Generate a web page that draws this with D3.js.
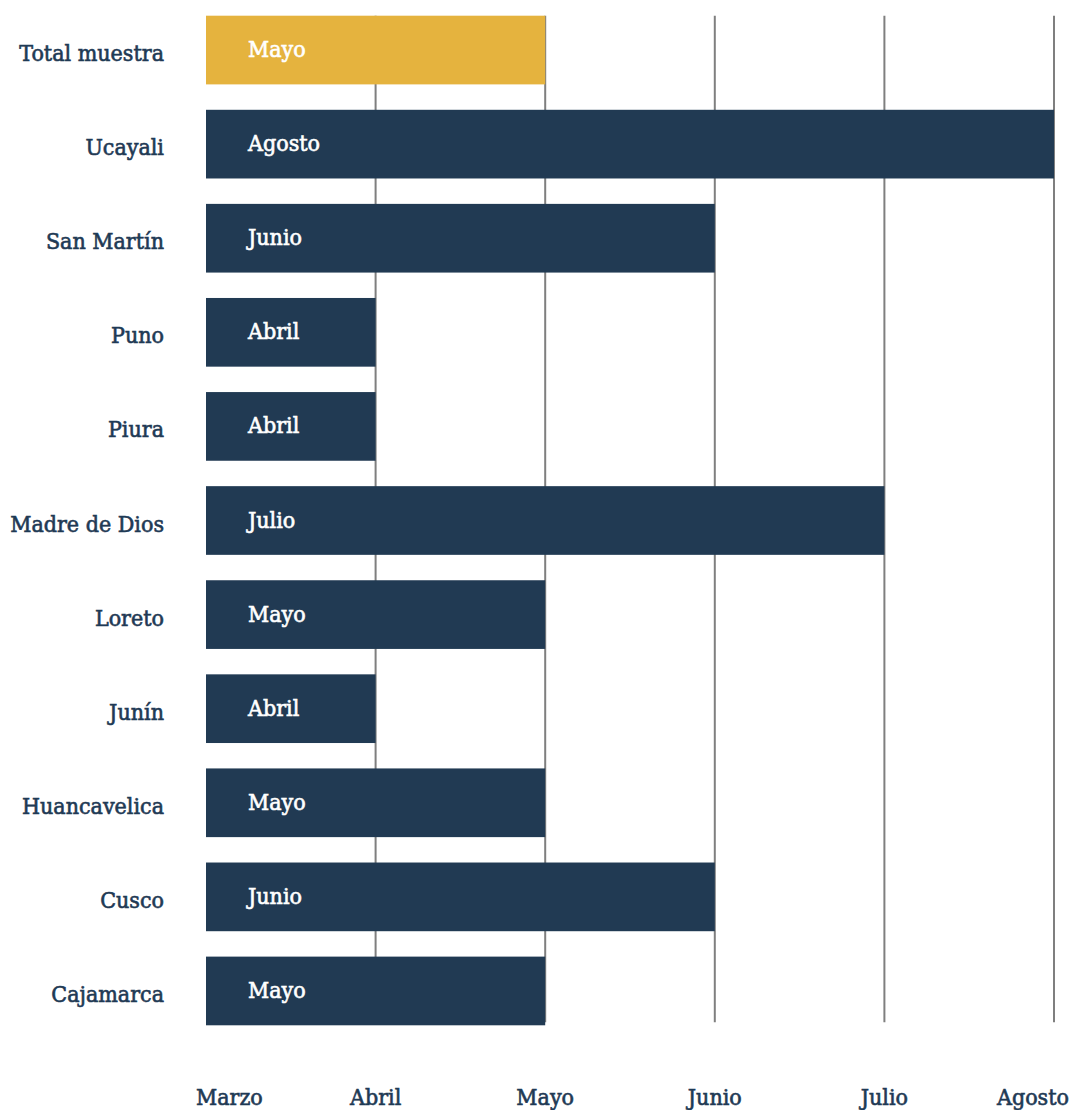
<!DOCTYPE html>
<html>
<head>
<meta charset="utf-8">
<script src="https://cdn.jsdelivr.net/npm/d3@7"></script>
<style>
  html, body { margin: 0; padding: 0; background: #ffffff; }
  svg { display: block; }
  text { font-family: "DejaVu Serif Condensed", "DejaVu Serif", serif; paint-order: stroke; stroke-width: 0.6px; }
</style>
</head>
<body>
<svg id="chart" width="1070" height="1110"></svg>
<script>
// Month in which each region reaches the threshold (0 = Marzo ... 5 = Agosto)
const regions = ["Total muestra", "Ucayali", "San Martín", "Puno", "Piura", "Madre de Dios",
                 "Loreto", "Junín", "Huancavelica", "Cusco", "Cajamarca"];
const monthIndex = [2, 5, 3, 1, 1, 4, 2, 1, 2, 3, 2];
const monthLabels = ["Marzo", "Abril", "Mayo", "Junio", "Julio", "Agosto"];
const highlighted = ["Total muestra"];

const svg = d3.select("#chart");
const W = 1070, H = 1110;
const margin = { left: 206, right: 16, top: 3, bottom: 72 };

const x = d3.scaleLinear()
  .domain([0, monthLabels.length - 1])
  .range([margin.left, W - margin.right]);

const y = d3.scaleBand()
  .domain(regions)
  .range([margin.top, H - margin.bottom])
  .paddingInner(0.27)
  .paddingOuter(0.135);

const navy = "#213a53";
const gold = "#e5b33e";
const textColor = "#1f3a55";
const fontSize = 23;

// vertical month gridlines, behind the bars
const gridTop = y(regions[0]);
const gridBottom = y(regions[regions.length - 1]) + y.bandwidth() - 3;
svg.append("g")
  .selectAll("line")
  .data(d3.range(1, monthLabels.length))
  .join("line")
  .attr("x1", d => x(d)).attr("x2", d => x(d))
  .attr("y1", gridTop).attr("y2", gridBottom)
  .attr("stroke", "#7f7f7f")
  .attr("stroke-width", 2);

const rows = regions.map((r, i) => ({ region: r, value: monthIndex[i] }));

// bars
svg.append("g")
  .selectAll("rect")
  .data(rows)
  .join("rect")
  .attr("x", x(0))
  .attr("y", d => y(d.region))
  .attr("width", d => x(d.value) - x(0))
  .attr("height", y.bandwidth())
  .attr("fill", d => highlighted.includes(d.region) ? gold : navy);

// month name inside each bar
svg.append("g")
  .selectAll("text")
  .data(rows)
  .join("text")
  .attr("x", x(0) + 42)
  .attr("y", d => y(d.region) + y.bandwidth() / 2 + 7)
  .attr("fill", "#ffffff")
  .attr("stroke", "#ffffff")
  .attr("font-size", fontSize)
  .text(d => monthLabels[d.value]);

// region labels
svg.append("g")
  .selectAll("text")
  .data(rows)
  .join("text")
  .attr("x", x(0) - 42)
  .attr("y", d => y(d.region) + y.bandwidth() / 2 + 11)
  .attr("text-anchor", "end")
  .attr("fill", textColor)
  .attr("stroke", textColor)
  .attr("font-size", fontSize)
  .text(d => d.region);

// month axis labels along the bottom
const last = monthLabels.length - 1;
svg.append("g")
  .selectAll("text")
  .data(monthLabels)
  .join("text")
  .attr("x", (d, i) => x(i) + (i === 0 ? -10 : i === last ? 15 : 0))
  .attr("y", H - 5)
  .attr("text-anchor", (d, i) => i === 0 ? "start" : i === last ? "end" : "middle")
  .attr("fill", textColor)
  .attr("stroke", textColor)
  .attr("font-size", fontSize)
  .text(d => d);
</script>
</body>
</html>
